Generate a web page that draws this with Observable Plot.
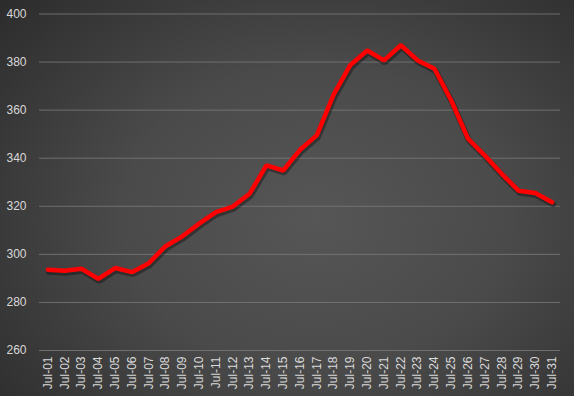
<!DOCTYPE html>
<html>
<head>
<meta charset="utf-8">
<script src="https://cdn.jsdelivr.net/npm/d3@7"></script>
<script src="https://cdn.jsdelivr.net/npm/@observablehq/plot@0.6"></script>
<style>
  html, body { margin: 0; padding: 0; }
  body { width: 574px; height: 396px; overflow: hidden;
    background: radial-gradient(ellipse 75% 85% at 55% 55%, #565656 0%, #4a4a4a 45%, #333333 85%, #2a2a2a 100%); }
  #chart svg { display: block; background: transparent; }
</style>
</head>
<body>
<div id="chart"></div>
<script>
const labels = ["Jul-01","Jul-02","Jul-03","Jul-04","Jul-05","Jul-06","Jul-07","Jul-08","Jul-09","Jul-10",
  "Jul-11","Jul-12","Jul-13","Jul-14","Jul-15","Jul-16","Jul-17","Jul-18","Jul-19","Jul-20",
  "Jul-21","Jul-22","Jul-23","Jul-24","Jul-25","Jul-26","Jul-27","Jul-28","Jul-29","Jul-30","Jul-31"];
const values = [293.6, 293.2, 294.0, 289.8, 294.3, 292.6, 296.3, 303.4, 307.5, 312.8,
  317.6, 319.9, 325.2, 337.0, 334.9, 343.5, 349.5, 366.5, 378.8, 384.8,
  380.7, 387.0, 380.7, 377.2, 364.0, 348.1, 341.1, 333.5, 326.5, 325.5, 321.7];
const yTicks = [260, 280, 300, 320, 340, 360, 380, 400];

const data = labels.map((d, i) => ({label: d, value: values[i]}));

const chart = Plot.plot({
  width: 574,
  height: 396,
  marginLeft: 39,
  marginRight: 14,
  marginTop: 13.5,
  marginBottom: 46,
  style: {background: "transparent", fontFamily: "Liberation Sans, Arial, sans-serif", fontSize: "12px", color: "#d9d9d9"},
  x: {type: "point", domain: labels, padding: 0.5, round: false, label: null, tickSize: 0, tickRotate: -90, tickPadding: 6},
  y: {domain: [260, 400], ticks: yTicks, label: null, tickSize: 0, tickPadding: 13},
  marks: [
    Plot.gridY(yTicks, {stroke: "#7a7a7a", strokeOpacity: 0.8, strokeWidth: 1}),
    Plot.line(data, {x: "label", y: "value", stroke: "#000", strokeOpacity: 0.35, strokeWidth: 6, dx: 1, dy: 2, strokeLinejoin: "miter"}),
    Plot.line(data, {x: "label", y: "value", stroke: "#ff0000", strokeWidth: 4.5, strokeLinejoin: "miter"})
  ]
});
document.getElementById("chart").appendChild(chart);
d3.select(chart).selectAll("g[aria-label='x-axis tick label'] text, g[aria-label='y-axis tick label'] text").attr("fill", "#d9d9d9");
</script>
</body>
</html>
